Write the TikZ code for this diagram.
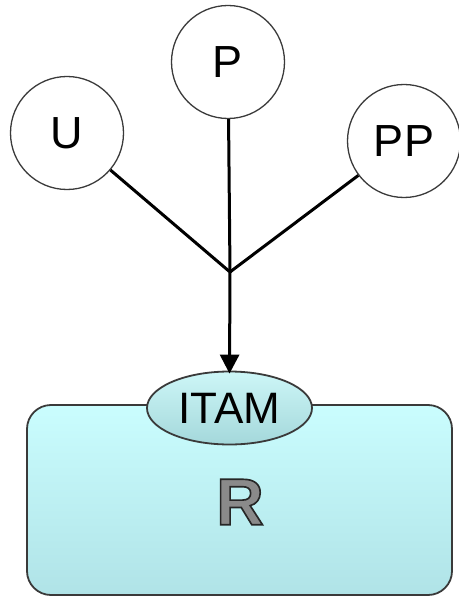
\documentclass[tikz,border=0pt]{standalone}
\usepackage{fontspec}
\setmainfont{Liberation Sans}
\newfontfamily\Rfont[FakeBold=2.5]{Liberation Sans Bold}
\usetikzlibrary{shapes.geometric,arrows.meta}
\definecolor{boxtop}{HTML}{CAFDFE}
\definecolor{boxbot}{HTML}{B0E3E7}
\definecolor{elltop}{HTML}{CDF6F7}
\definecolor{ellbot}{HTML}{A4D8DB}
\definecolor{edgegray}{HTML}{3A3A3A}
\definecolor{rgray}{HTML}{8A8A8A}
\begin{document}
\begin{tikzpicture}[x=1bp,y=-1bp,
  circ/.style={circle, draw=edgegray, line width=1.3bp, fill=white, minimum size=113bp, inner sep=0pt, font=\fontsize{45bp}{45bp}\selectfont},
  link/.style={line width=3bp, draw=black},
  rbox/.style={draw=edgegray, line width=1.8bp, rounded corners=24bp, minimum width=425bp, minimum height=190bp, top color=boxtop, bottom color=boxbot},
  itam/.style={ellipse, draw=edgegray, line width=1.8bp, minimum width=165bp, minimum height=73bp, inner sep=0pt, top color=elltop, bottom color=ellbot, font=\fontsize{44bp}{44bp}\selectfont}]
\useasboundingbox (0,0) rectangle (459,597);
\node[circ] (P) at (228,62) {P};
\node[circ] (U) at (67,133) {U};
\node[circ] (PP) at (404,141) {PP};
\coordinate (J) at (230,272);
\node[rbox] (R) at (239.5,500) {};
\node[itam] (I) at (229.5,408) {ITAM};
\node[font=\fontsize{66bp}{66bp}\Rfont] (Rt) at (240,502) {\color{rgray}\special{pdf:code 0.15 0.15 0.15 RG}R};
\draw[link] (U) -- (J);
\draw[link] (PP) -- (J);
\draw[link] (P) -- (J);
\draw[link, -{Triangle[length=19bp,width=19bp]}] (J) -- ([yshift=-3bp]I.north);
\end{tikzpicture}
\end{document}
